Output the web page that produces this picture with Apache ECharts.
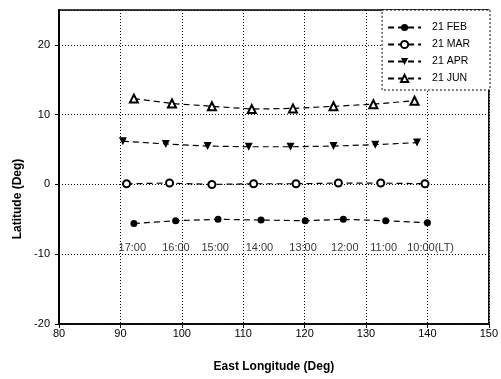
<!DOCTYPE html>
<html>
<head>
<meta charset="utf-8">
<script src="https://cdn.jsdelivr.net/npm/echarts@6/dist/echarts.min.js"></script>
<style>
  html, body { margin: 0; padding: 0; background: #fff; }
  #chart { width: 501px; height: 379px; }
</style>
</head>
<body>
<div id="chart"></div>
<script>
// 各日期的经纬度
var febLon = [92.2, 99.0, 105.9, 112.9, 120.1, 126.3, 133.2, 140.0]
var febLat = [-5.6, -5.2, -5.0, -5.1, -5.2, -5.0, -5.2, -5.5]
var marLon = [91.0, 98.0, 104.9, 111.7, 118.6, 125.5, 132.4, 139.6]
var marLat = [0.1, 0.2, 0.0, 0.1, 0.1, 0.2, 0.2, 0.1]
var aprLon = [90.4, 97.4, 104.2, 110.9, 117.7, 124.7, 131.5, 138.3]
var aprLat = [6.2, 5.8, 5.5, 5.4, 5.4, 5.5, 5.7, 6.0]
var junLon = [92.2, 98.4, 104.9, 111.4, 118.1, 124.7, 131.2, 137.9]
var junLat = [12.3, 11.6, 11.2, 10.8, 10.9, 11.2, 11.5, 12.0]

// 地方时标注
var timeLabels = ['17:00', '16:00', '15:00', '14:00', '13:00', '12:00', '11:00', '10:00(LT)']
var timeLabelLon = [89.7, 96.8, 103.2, 110.4, 117.5, 124.3, 130.7, 136.7]
var timeLabelLat = -9.1

function pairs (xs, ys) {
  return xs.map(function (x, i) { return [x, ys[i]] })
}

var font = 'Liberation Sans, Arial, sans-serif'
var chart = echarts.init(document.getElementById('chart'))

var dash = { color: '#000', width: 1.2, type: [6, 4] }

var option = {
  animation: false,
  grid: {
    left: 59,
    right: 11,
    top: 10,
    bottom: 55,
    show: true,
    borderColor: '#000',
    borderWidth: 1.5,
    backgroundColor: '#fff'
  },
  legend: {
    orient: 'vertical',
    right: 11,
    top: 10,
    padding: [12, 20, 6, 5],
    itemWidth: 33,
    itemHeight: 9,
    itemGap: 6,
    backgroundColor: '#fff',
    borderColor: '#000',
    borderWidth: 1,
    borderType: [2, 2],
    textStyle: { fontFamily: font, fontSize: 10.5, color: '#000', padding: [0, 0, 0, 6] },
    data: ['21 FEB', '21 MAR', '21 APR', '21 JUN']
  },
  xAxis: {
    type: 'value',
    min: 80,
    max: 150,
    interval: 10,
    name: 'East Longitude (Deg)',
    nameLocation: 'middle',
    nameGap: 37,
    nameTextStyle: { fontFamily: font, fontSize: 12, fontWeight: 'bold', color: '#000' },
    axisLine: { onZero: false, lineStyle: { color: '#000', width: 1.5 } },
    axisTick: { show: true, inside: false, length: 4, lineStyle: { color: '#000' } },
    axisLabel: { fontFamily: font, fontSize: 11, color: '#000', margin: 4 },
    splitLine: { show: true, lineStyle: { color: '#000', width: 1, type: [1, 2] } }
  },
  yAxis: {
    type: 'value',
    min: -20,
    max: 25,
    interval: 10,
    name: 'Latitude (Deg)',
    nameLocation: 'middle',
    nameGap: 21,
    nameTextStyle: { fontFamily: font, fontSize: 12, fontWeight: 'bold', color: '#000', padding: [0, 64, 0, 0] },
    axisLine: { onZero: false, lineStyle: { color: '#000', width: 2 } },
    axisTick: { show: true, inside: false, length: 4, lineStyle: { color: '#000' } },
    axisLabel: { fontFamily: font, fontSize: 11, color: '#000', margin: 9, showMaxLabel: false },
    splitLine: { show: true, lineStyle: { color: '#000', width: 1, type: [1, 2] } }
  },
  series: [
    {
      name: '21 FEB',
      type: 'line',
      data: pairs(febLon, febLat),
      symbol: 'circle',
      symbolSize: 7,
      itemStyle: { color: '#000' },
      lineStyle: dash
    },
    {
      name: '21 MAR',
      type: 'line',
      data: pairs(marLon, marLat),
      symbol: 'emptyCircle',
      symbolSize: 7,
      itemStyle: { color: '#000', borderWidth: 1 },
      lineStyle: dash
    },
    {
      name: '21 APR',
      type: 'line',
      data: pairs(aprLon, aprLat),
      symbol: 'triangle',
      symbolRotate: 180,
      symbolSize: 8,
      itemStyle: { color: '#000' },
      lineStyle: dash
    },
    {
      name: '21 JUN',
      type: 'line',
      data: pairs(junLon, junLat),
      symbol: 'emptyTriangle',
      symbolSize: 8,
      itemStyle: { color: '#000', borderWidth: 1 },
      lineStyle: dash
    },
    {
      name: 'LT',
      type: 'scatter',
      symbolSize: 0,
      silent: true,
      data: pairs(timeLabelLon, timeLabelLon.map(function () { return timeLabelLat })),
      label: {
        show: true,
        position: 'inside',
        align: 'left',
        fontFamily: font,
        fontSize: 11,
        color: '#000',
        formatter: function (p) { return timeLabels[p.dataIndex] }
      }
    }
  ]
}

option && chart.setOption(option)
</script>
</body>
</html>
